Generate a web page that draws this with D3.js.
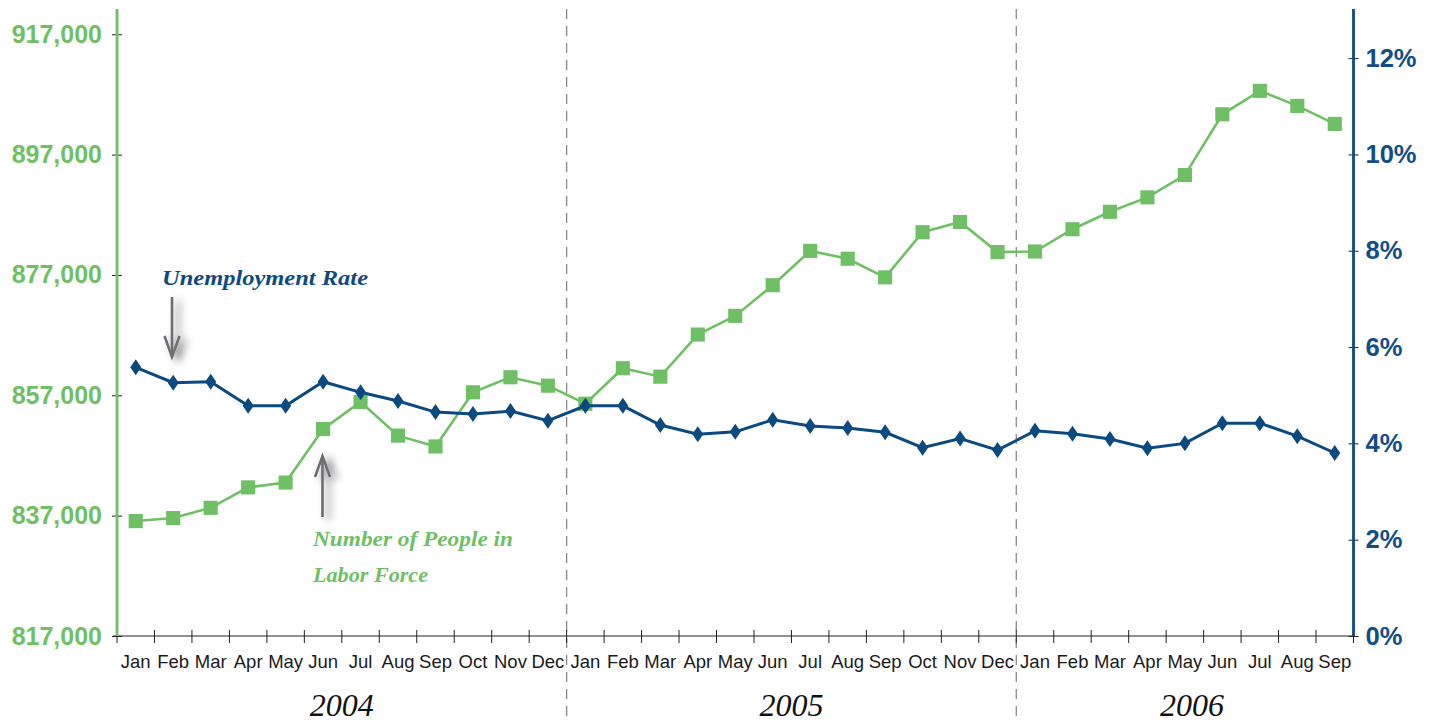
<!DOCTYPE html>
<meta charset='utf-8'>
<head>
    <title>Labor force and unemployment</title>
    <script src='https://cdn.jsdelivr.net/npm/d3@7/dist/d3.min.js'></script>
</head>

<style>
    body { margin: 0; background: #fff; }
    svg { display: block; font-family: 'Liberation Sans', Arial, sans-serif; }
    .domain { display: none; }
</style>

<svg></svg>

<script>

    // Data
    var periods = ['Jan 2004', 'Feb 2004', 'Mar 2004', 'Apr 2004', 'May 2004', 'Jun 2004',
        'Jul 2004', 'Aug 2004', 'Sep 2004', 'Oct 2004', 'Nov 2004', 'Dec 2004',
        'Jan 2005', 'Feb 2005', 'Mar 2005', 'Apr 2005', 'May 2005', 'Jun 2005',
        'Jul 2005', 'Aug 2005', 'Sep 2005', 'Oct 2005', 'Nov 2005', 'Dec 2005',
        'Jan 2006', 'Feb 2006', 'Mar 2006', 'Apr 2006', 'May 2006', 'Jun 2006',
        'Jul 2006', 'Aug 2006', 'Sep 2006'];
    var years = ['2004', '2005', '2006'];

    var laborForce = [836100, 836600, 838300, 841700, 842500, 851400, 855900, 850300, 848500, 857500, 860000, 858600,
        855600, 861500, 860100, 867100, 870200, 875300, 881000, 879700, 876600, 884100, 885800, 880800,
        880900, 884600, 887500, 889900, 893600, 903700, 907600, 905100, 902100];
    var unemploymentRate = [5.58, 5.26, 5.28, 4.78, 4.78, 5.28, 5.06, 4.88, 4.65, 4.61, 4.67, 4.47,
        4.78, 4.78, 4.38, 4.19, 4.24, 4.49, 4.36, 4.32, 4.23, 3.91, 4.10, 3.86,
        4.26, 4.20, 4.09, 3.90, 4.00, 4.42, 4.42, 4.15, 3.80];

    var leftTicks = [817000, 837000, 857000, 877000, 897000, 917000];
    var rightTicks = [0, 2, 4, 6, 8, 10, 12];

    var vWidth = 1433;
    var vHeight = 723;
    var margin = {top: 9, right: 79.5, bottom: 87, left: 117};
    var green = '#6fbf65';
    var blue = '#0b4a80';

    var svg = d3.select('svg').attr('width', vWidth).attr('height', vHeight);

    // scales
    var x = d3.scaleBand().domain(periods).range([margin.left, vWidth - margin.right]);
    var yLeft = d3.scaleLinear().domain([817000, 921200]).range([vHeight - margin.bottom, margin.top]);
    var yRight = d3.scaleLinear().domain([0, 13.02]).range([vHeight - margin.bottom, margin.top]);
    var cx = function (p) { return x(p) + x.bandwidth() / 2; };
    var baseY = vHeight - margin.bottom;

    // year separators (dashed)
    var yearStarts = years.slice(1).map(function (yr) { return x('Jan ' + yr); });
    svg.append('g').selectAll('line').data(yearStarts).enter().append('line')
        .attr('x1', function (d) { return d; }).attr('x2', function (d) { return d; })
        .attr('y1', margin.top).attr('y2', 721)
        .attr('stroke', '#8a8a8a').attr('stroke-width', 1.3)
        .attr('stroke-dasharray', '10,7');

    // x axis: labels centred, ticks on month boundaries
    svg.append('line')
        .attr('x1', margin.left - 4).attr('x2', vWidth - margin.right)
        .attr('y1', baseY).attr('y2', baseY)
        .attr('stroke', '#222').attr('stroke-width', 1);

    var bounds = periods.map(function (p) { return x(p); }).concat([vWidth - margin.right]);
    svg.append('g').selectAll('line').data(bounds).enter().append('line')
        .attr('x1', function (d) { return d; }).attr('x2', function (d) { return d; })
        .attr('y1', baseY - 6).attr('y2', baseY + 7)
        .attr('stroke', '#222').attr('stroke-width', 1);

    var xAxis = svg.append('g')
        .attr('transform', 'translate(0,' + baseY + ')')
        .call(d3.axisBottom(x).tickSize(0).tickPadding(19)
            .tickFormat(function (d) { return d.split(' ')[0]; }));
    xAxis.selectAll('text').attr('font-size', 18.5).attr('fill', '#1a1a1a')
        .attr('font-family', "'Liberation Sans', Arial, sans-serif");

    // year labels under each group of months
    svg.append('g').selectAll('text').data(years).enter().append('text')
        .attr('x', function (yr) {
            var ps = periods.filter(function (p) { return p.indexOf(yr) > 0; });
            return (x(ps[0]) + x(ps[ps.length - 1]) + x.bandwidth()) / 2 + (yr === '2006' ? 7 : 0);
        })
        .attr('y', 716)
        .attr('text-anchor', 'middle')
        .attr('font-family', "'Liberation Serif', serif")
        .attr('font-style', 'italic')
        .attr('font-size', 32)
        .attr('fill', '#111')
        .text(function (d) { return d; });

    // left axis (labor force)
    var leftAxis = svg.append('g')
        .attr('transform', 'translate(' + margin.left + ',0)')
        .call(d3.axisLeft(yLeft).tickValues(leftTicks).tickSize(5).tickPadding(10)
            .tickFormat(d3.format(',')));
    leftAxis.selectAll('.tick line').attr('x1', 5).attr('x2', -5).attr('stroke', '#222');
    leftAxis.selectAll('text').attr('font-size', 25).attr('font-weight', 'bold').attr('fill', green)
        .attr('font-family', "'Liberation Sans', Arial, sans-serif");
    svg.append('line')
        .attr('x1', margin.left).attr('x2', margin.left)
        .attr('y1', margin.top).attr('y2', baseY)
        .attr('stroke', green).attr('stroke-width', 2.8);

    // right axis (unemployment rate)
    var rightX = vWidth - margin.right;
    var rightAxis = svg.append('g')
        .attr('transform', 'translate(' + rightX + ',0)')
        .call(d3.axisRight(yRight).tickValues(rightTicks).tickSize(5).tickPadding(7)
            .tickFormat(function (d) { return d + '%'; }));
    rightAxis.selectAll('.tick line').attr('x1', -5).attr('x2', 5).attr('stroke', '#222');
    rightAxis.selectAll('text').attr('font-size', 25.5).attr('font-weight', 'bold').attr('fill', '#124d86')
        .attr('font-family', "'Liberation Sans', Arial, sans-serif");
    svg.append('line')
        .attr('x1', rightX).attr('x2', rightX)
        .attr('y1', margin.top).attr('y2', baseY)
        .attr('stroke', blue).attr('stroke-width', 2.8);

    // labor force line + squares
    var laborLine = d3.line()
        .x(function (d, i) { return cx(periods[i]); })
        .y(function (d) { return yLeft(d); });
    svg.append('path').datum(laborForce)
        .attr('d', laborLine)
        .attr('fill', 'none').attr('stroke', green).attr('stroke-width', 2.6);
    svg.append('g').selectAll('path').data(laborForce).enter().append('path')
        .attr('d', d3.symbol().type(d3.symbolSquare).size(200))
        .attr('transform', function (d, i) { return 'translate(' + cx(periods[i]) + ',' + yLeft(d) + ')'; })
        .attr('fill', green);

    // unemployment line + diamonds
    var tallDiamond = {
        draw: function (context, size) {
            var w = Math.sqrt(size) * 0.55, h = Math.sqrt(size) * 0.8;
            context.moveTo(0, -h);
            context.lineTo(w, 0);
            context.lineTo(0, h);
            context.lineTo(-w, 0);
            context.closePath();
        }
    };
    var rateLine = d3.line()
        .x(function (d, i) { return cx(periods[i]); })
        .y(function (d) { return yRight(d); });
    svg.append('path').datum(unemploymentRate)
        .attr('d', rateLine)
        .attr('fill', 'none').attr('stroke', blue).attr('stroke-width', 3);
    svg.append('g').selectAll('path').data(unemploymentRate).enter().append('path')
        .attr('d', d3.symbol().type(tallDiamond).size(100))
        .attr('transform', function (d, i) { return 'translate(' + cx(periods[i]) + ',' + yRight(d) + ')'; })
        .attr('fill', blue);

    // annotations
    var defs = svg.append('defs');
    defs.append('filter').attr('id', 'shadow')
        .attr('x', '-200%').attr('y', '-50%').attr('width', '500%').attr('height', '200%')
        .append('feDropShadow')
        .attr('dx', 6).attr('dy', 3).attr('stdDeviation', 4.5)
        .attr('flood-color', '#000').attr('flood-opacity', 0.55);

    function arrow(xPos, yFrom, yTo) {
        var dir = yTo > yFrom ? -1 : 1;
        var g = svg.append('g').attr('filter', 'url(#shadow)')
            .attr('stroke', '#6e6e72').attr('stroke-width', 2.6).attr('fill', 'none');
        g.append('line').attr('x1', xPos).attr('x2', xPos).attr('y1', yFrom).attr('y2', yTo);
        g.append('path').attr('d', 'M' + (xPos - 7.5) + ',' + (yTo + dir * 21) +
            'L' + xPos + ',' + yTo + 'L' + (xPos + 7.5) + ',' + (yTo + dir * 21));
    }
    arrow(172, 297, 357);
    arrow(322.5, 517, 456);

    function note(txt, xPos, yPos, len, color) {
        svg.append('text')
            .attr('x', xPos).attr('y', yPos)
            .attr('font-family', "'Liberation Serif', serif")
            .attr('font-style', 'italic').attr('font-weight', 'bold')
            .attr('font-size', 22)
            .attr('textLength', len).attr('lengthAdjust', 'spacingAndGlyphs')
            .attr('fill', color)
            .text(txt);
    }
    note('Unemployment Rate', 162, 285, 206, '#0e4a82');
    note('Number of People in', 313, 546, 200, green);
    note('Labor Force', 313, 582, 115, green);
</script>
